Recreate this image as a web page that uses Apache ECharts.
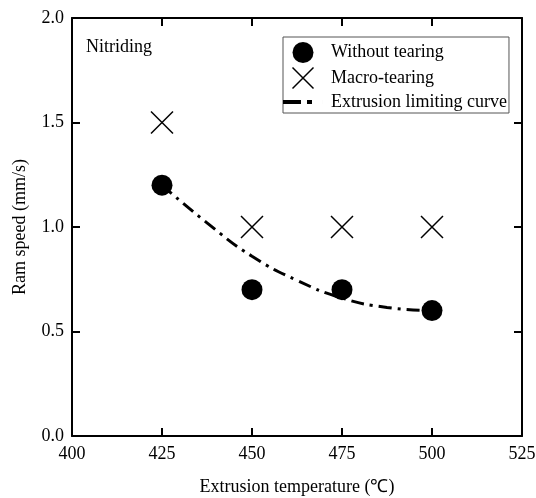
<!DOCTYPE html>
<html lang="en">
<head>
    <meta charset="UTF-8">
    <title>Ram speed vs extrusion temperature</title>
</head>
<body style="margin:0;background:#fff;">
<div id="main" style="width:536px;height:498px;"></div>
<script src="https://cdn.jsdelivr.net/npm/echarts@6/dist/echarts.min.js"></script>
<script type="text/javascript">
    // data
    var tempTicks = [400, 425, 450, 475, 500, 525];
    var speedTicks = [0.0, 0.5, 1.0, 1.5, 2.0];

    var noTearTemp = [425, 450, 475, 500];
    var noTearSpeed = [1.2, 0.7, 0.7, 0.6];

    var macroTemp = [425, 450, 475, 500];
    var macroSpeed = [1.5, 1.0, 1.0, 1.0];

    // limiting curve, read at a few points along the dash-dot line
    var curveTemp = [425, 437.5, 450, 462.5, 475, 487.5, 500];
    var curveSpeed = [1.2, 1.02, 0.86, 0.745, 0.66, 0.615, 0.6];

    function pairs(xs, ys) {
        return xs.map(function (x, i) { return [x, ys[i]]; });
    }

    var font = "'Liberation Serif', 'Times New Roman', serif";
    var crossPath = 'path://M0,0L20,20M20,0L0,20';
    var dashDotIcon = 'path://M0,0h18v4H0zM24,0h5v4h-5zM40,0h0.01v4h-0.01z';

    var myChart = echarts.init(document.getElementById("main"));

    var axisLine = {show: true, onZero: false, lineStyle: {color: '#000', width: 2}};
    var axisTick = {show: true, inside: true, length: 8, lineStyle: {color: '#000', width: 2}};

    var option = {
        backgroundColor: '#fff',
        animation: false,
        textStyle: {fontFamily: font},
        grid: {left: 72, right: 14, top: 18, bottom: 62, outerBoundsMode: 'none'},
        graphic: [{
            type: 'text',
            left: 86,
            top: 38,
            style: {text: 'Nitriding', font: "18px 'Liberation Serif'", fill: '#000'}
        }],
        legend: {
            orient: 'vertical',
            left: 283,
            top: 37,
            padding: [5, 2, 2, 0],
            itemWidth: 40,
            itemHeight: 21,
            itemGap: 2,
            borderColor: '#555',
            borderWidth: 1,
            textStyle: {fontFamily: font, fontSize: 18, color: '#000', padding: [0, 0, 0, 3]},
            data: [
                {name: 'Without tearing', icon: 'circle'},
                {name: 'Macro-tearing', icon: crossPath,
                    itemStyle: {color: 'none', borderColor: '#000', borderWidth: 1.5}},
                {name: 'Extrusion limiting curve', icon: dashDotIcon,
                    itemStyle: {color: '#000', borderWidth: 0}}
            ]
        },
        xAxis: [{
            type: 'value',
            min: tempTicks[0],
            max: tempTicks[tempTicks.length - 1],
            interval: 25,
            name: 'Extrusion temperature (℃)',
            nameLocation: 'middle',
            nameGap: 42,
            nameTextStyle: {fontFamily: font, fontSize: 18, color: '#000'},
            axisLine: axisLine,
            axisTick: axisTick,
            axisLabel: {fontFamily: font, fontSize: 18, color: '#000', margin: 9},
            splitLine: {show: false}
        }, {
            type: 'value',
            position: 'top',
            min: tempTicks[0],
            max: tempTicks[tempTicks.length - 1],
            interval: 25,
            axisLine: axisLine,
            axisTick: axisTick,
            axisLabel: {show: false},
            splitLine: {show: false}
        }],
        yAxis: [{
            type: 'value',
            min: speedTicks[0],
            max: speedTicks[speedTicks.length - 1],
            interval: 0.5,
            name: 'Ram speed (mm/s)',
            nameLocation: 'middle',
            nameGap: 43,
            nameTextStyle: {fontFamily: font, fontSize: 18, color: '#000'},
            axisLine: axisLine,
            axisTick: axisTick,
            axisLabel: {
                fontFamily: font, fontSize: 18, color: '#000', margin: 8,
                formatter: function (v) { return v.toFixed(1); }
            },
            splitLine: {show: false}
        }, {
            type: 'value',
            position: 'right',
            min: speedTicks[0],
            max: speedTicks[speedTicks.length - 1],
            interval: 0.5,
            axisLine: axisLine,
            axisTick: axisTick,
            axisLabel: {show: false},
            splitLine: {show: false}
        }],
        series: [
            {
                name: 'Extrusion limiting curve',
                type: 'line',
                smooth: true,
                symbol: 'none',
                data: pairs(curveTemp, curveSpeed),
                itemStyle: {color: '#000'},
                lineStyle: {color: '#000', width: 3, type: [13, 6, 3, 6]},
                z: 1
            },
            {
                name: 'Without tearing',
                type: 'scatter',
                symbol: 'circle',
                symbolSize: 21,
                data: pairs(noTearTemp, noTearSpeed),
                itemStyle: {color: '#000', opacity: 1},
                z: 3
            },
            {
                name: 'Macro-tearing',
                type: 'scatter',
                symbol: crossPath,
                symbolSize: 22,
                data: pairs(macroTemp, macroSpeed),
                itemStyle: {color: 'none', borderColor: '#000', borderWidth: 1.5, opacity: 1},
                z: 3
            }
        ]
    };

    myChart.setOption(option);
</script>
</body>
</html>
